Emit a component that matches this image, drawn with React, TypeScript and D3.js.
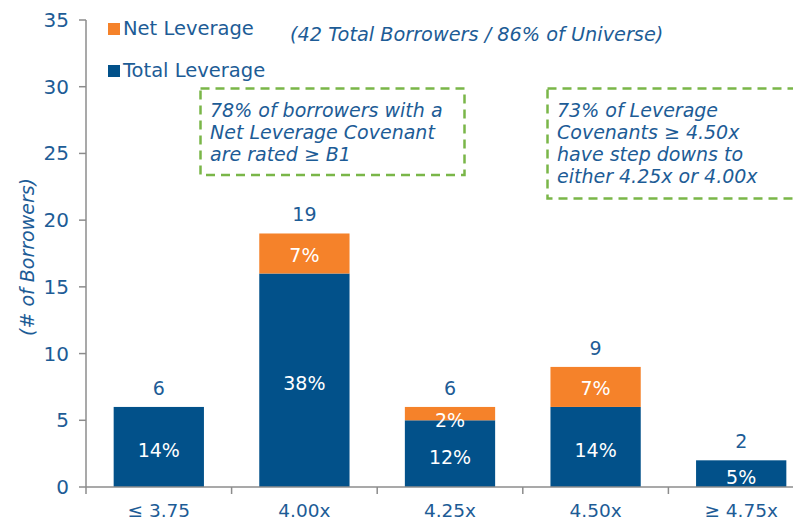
import * as d3 from "d3";

const categories = ["≤ 3.75", "4.00x", "4.25x", "4.50x", "≥ 4.75x"];
const totalLeverage = [6, 16, 5, 6, 2];
const netLeverage = [0, 3, 1, 3, 0];
const totalPct = ["14%", "38%", "12%", "14%", "5%"];
const netPct = ["", "7%", "2%", "7%", ""];
const yTicks = [0, 5, 10, 15, 20, 25, 30, 35];
const box1Lines = ["78% of borrowers with a", "Net Leverage Covenant", "are rated ≥ B1"];
const box2Lines = ["73% of Leverage", "Covenants ≥ 4.50x", "have step downs to", "either 4.25x or 4.00x"];

const W = 793;
const H = 522;
const BLUE = "#02518A";
const ORANGE = "#F5822A";
const TXT = "#1D5C96";
const GREEN = "#7AB648";
const AXIS = "#8C8C8C";
const FONT = "'DejaVu Sans', Verdana, sans-serif";

export default function App() {
  const x = d3
    .scaleBand<string>()
    .domain(categories)
    .range([86, 814])
    .paddingInner(0.38)
    .paddingOuter(0.19);
  const y = d3.scaleLinear().domain([0, 35]).range([487, 20]);
  const step = x.step();
  const x0 = 86;

  return (
    <svg width={W} height={H} style={{ display: "block", position: "absolute", left: 0, top: 0 }} fontFamily={FONT}>
      <rect width={W} height={H} fill="#fff" />

      {/* y axis */}
      <line x1={x0} x2={x0} y1={y(35)} y2={y(0)} stroke={AXIS} strokeWidth={1.5} />
      {yTicks.map((t) => (
        <g key={t}>
          <line x1={x0 - 7} x2={x0} y1={y(t)} y2={y(t)} stroke={AXIS} strokeWidth={1.5} />
          <text x={69} y={y(t) + 7} textAnchor="end" fontSize={20} fill={TXT}>
            {t}
          </text>
        </g>
      ))}
      <text
        transform={`translate(34,${257}) rotate(-90)`}
        textAnchor="middle"
        fontSize={19}
        fontStyle="italic"
        fill={TXT}
      >
        (# of Borrowers)
      </text>

      {/* bars */}
      {categories.map((c, i) => {
        const bx = x(c)!;
        const bw = x.bandwidth();
        const t = totalLeverage[i];
        const n = netLeverage[i];
        const cx = bx + bw / 2;
        return (
          <g key={c}>
            <rect x={bx} y={y(t)} width={bw} height={y(0) - y(t)} fill={BLUE} />
            {n > 0 && <rect x={bx} y={y(t + n)} width={bw} height={y(t) - y(t + n)} fill={ORANGE} />}
            <text x={cx} y={(y(t) + y(0)) / 2 + 10} textAnchor="middle" fontSize={19} fill="#fff">
              {totalPct[i]}
            </text>
            {n > 0 && (
              <text x={cx} y={(y(t + n) + y(t)) / 2 + (n < 2 ? 13 : 8)} textAnchor="middle" fontSize={19} fill="#fff">
                {netPct[i]}
              </text>
            )}
            <text x={cx} y={y(t + n) - 12} textAnchor="middle" fontSize={19} fill={TXT}>
              {t + n}
            </text>
            <text x={cx} y={517} textAnchor="middle" fontSize={18.5} fill={TXT}>
              {c}
            </text>
          </g>
        );
      })}

      {/* x axis */}
      <line x1={x0} x2={814} y1={y(0)} y2={y(0)} stroke={AXIS} strokeWidth={1.5} />
      {d3.range(categories.length + 1).map((i) => (
        <line key={i} x1={x0 + i * step} x2={x0 + i * step} y1={y(0)} y2={y(0) + 7} stroke={AXIS} strokeWidth={1.5} />
      ))}

      {/* legend */}
      <rect x={108} y={23} width={12} height={12} fill={ORANGE} />
      <text x={123} y={35} fontSize={19.5} fill={TXT}>Net Leverage</text>
      <rect x={108} y={65} width={12} height={12} fill={BLUE} />
      <text x={123} y={77} fontSize={19.5} fill={TXT}>Total Leverage</text>

      <text x={290} y={41} fontSize={19.3} fontStyle="italic" fill={TXT}>
        (42 Total Borrowers / 86% of Universe)
      </text>

      {/* callout boxes */}
      <rect x={200.5} y={88.5} width={264} height={86.5} fill="none" stroke={GREEN} strokeWidth={2.5} strokeDasharray="9 6" />
      {box1Lines.map((l, i) => (
        <text key={l} x={210} y={117 + i * 22} fontSize={19} fontStyle="italic" fill={TXT}>
          {l}
        </text>
      ))}
      <rect x={547.5} y={88.5} width={270} height={110} fill="none" stroke={GREEN} strokeWidth={2.5} strokeDasharray="9 6" />
      {box2Lines.map((l, i) => (
        <text key={l} x={557} y={117 + i * 22} fontSize={19} fontStyle="italic" fill={TXT}>
          {l}
        </text>
      ))}
    </svg>
  );
}
